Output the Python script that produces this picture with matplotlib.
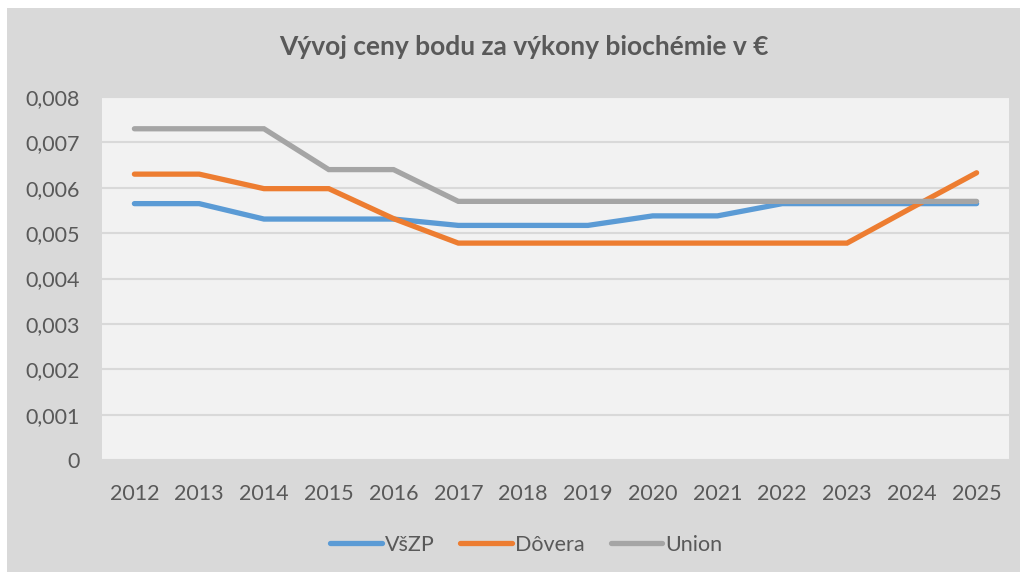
import matplotlib.pyplot as plt
from matplotlib.patches import Rectangle
from matplotlib.ticker import FuncFormatter

roky = [str(r) for r in range(2012, 2026)]
vszp = [0.00565, 0.00565, 0.00531, 0.00531, 0.00531, 0.00517, 0.00517,
        0.00517, 0.00538, 0.00538, 0.00565, 0.00565, 0.00565, 0.00565]
dovera = [0.0063, 0.0063, 0.00598, 0.00598, 0.00532, 0.00478, 0.00478,
          0.00478, 0.00478, 0.00478, 0.00478, 0.00478, 0.00556, 0.00633]
union = [0.0073, 0.0073, 0.0073, 0.0064, 0.0064, 0.0057, 0.0057,
         0.0057, 0.0057, 0.0057, 0.0057, 0.0057, 0.0057, 0.0057]

serie = [('VšZP', vszp, '#5b9bd5'), ('Dôvera', dovera, '#ed7d31'),
         ('Union', union, '#a5a5a5')]

plt.rcParams['font.family'] = ['Lato', 'DejaVu Sans']
TEXT = '#595959'

fig = plt.figure(figsize=(10.24, 5.77), dpi=100, facecolor='white')
# sivé pozadie grafu
fig.patches.append(Rectangle((7 / 1024, 5 / 577), 1013 / 1024, 564 / 577,
                             transform=fig.transFigure, facecolor='#d9d9d9',
                             edgecolor='none', zorder=-5))

ax = fig.add_axes([102 / 1024, 1 - 460 / 577, 907 / 1024, 363 / 577])
ax.set_facecolor('#f2f2f2')

x = range(len(roky))
for nazov, hodnoty, farba in serie:
    ax.plot(x, hodnoty, color=farba, lw=3.8, label=nazov,
            solid_capstyle='round', solid_joinstyle='miter')

ax.set_xlim(-0.5, len(roky) - 0.5)
ax.set_ylim(0, 0.008)
ax.set_yticks([i / 1000 for i in range(9)])
ax.yaxis.set_major_formatter(FuncFormatter(
    lambda v, p: '0' if v == 0 else f'{v:.3f}'.replace('.', ',')))
ax.set_xticks(list(x))
ax.set_xticklabels(roky)
ax.grid(axis='y', color='#d9d9d9', lw=1.5)
ax.set_axisbelow(True)
for s in ax.spines.values():
    s.set_visible(False)
ax.tick_params(length=0, labelsize=15.5, colors=TEXT)
ax.tick_params(axis='x', pad=17)
ax.tick_params(axis='y', pad=16)

fig.text(0.512, 1 - 47 / 577, 'Vývoj ceny bodu za výkony biochémie v €',
         ha='center', va='center', fontsize=19, fontweight='bold', color=TEXT)

leg = ax.legend(loc='center', bbox_to_anchor=(0.514, 1 - 545 / 577),
                bbox_transform=fig.transFigure, ncol=3, frameon=False,
                fontsize=15.5, handlelength=2.4, handletextpad=0.15,
                columnspacing=1.2)
for t in leg.get_texts():
    t.set_color(TEXT)

fig.savefig('out.png', dpi=100, facecolor=fig.get_facecolor())
